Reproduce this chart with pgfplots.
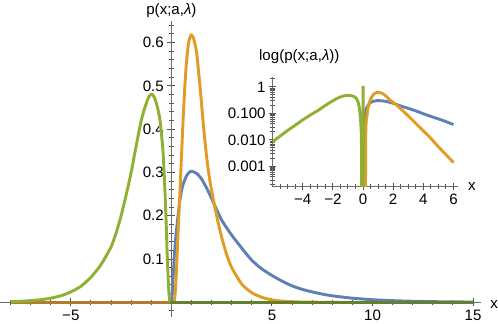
\documentclass[border=0pt]{standalone}
\usepackage{fontspec}
\setmainfont{Liberation Sans}
\usepackage{pgfplots}
\usepackage{pgfplotstable}
\pgfplotsset{compat=1.18}

\definecolor{mblue}{HTML}{5E81B5}
\definecolor{morange}{HTML}{E19C24}
\definecolor{mgreen}{HTML}{8FB032}
\definecolor{baseL}{RGB}{178,124,46}
\definecolor{baseR}{RGB}{100,128,44}
\definecolor{axgray}{gray}{0.42}
\definecolor{tickgray}{gray}{0.32}

% main panel curves
\pgfplotstableread{
x y
0 0
0.03 0.015
0.06 0.035
0.1 0.07
0.15 0.11
0.2 0.14
0.25 0.165
0.33 0.2
0.42 0.235
0.5 0.257
0.6 0.275
0.75 0.292
0.9 0.301
1.0 0.303
1.25 0.298
1.5 0.285
1.75 0.264
2.0 0.24
2.25 0.214
2.5 0.19
2.75 0.172
3.0 0.155
3.5 0.125
4.0 0.097
4.5 0.077
5.0 0.062
5.5 0.049
6.0 0.038
6.5 0.030
7.0 0.024
7.5 0.019
8 0.015
9 0.0095
10 0.006
11 0.0038
12 0.0024
13 0.0015
14 0.001
15 0.0006
}\blueA

\pgfplotstableread{
x y
0.13 0
0.18 0.015
0.25 0.071
0.33 0.16
0.42 0.25
0.5 0.335
0.58 0.42
0.67 0.5
0.75 0.555
0.85 0.598
0.95 0.616
1.0 0.618
1.1 0.61
1.25 0.578
1.4 0.51
1.5 0.458
1.6 0.405
1.7 0.358
1.8 0.318
1.9 0.285
2.0 0.258
2.25 0.2
2.5 0.15
2.75 0.11
3.0 0.08
3.5 0.042
4.0 0.022
4.5 0.0115
5.0 0.0055
5.5 0.0028
6.0 0.0014
6.5 0.0006
7.0 0.0003
8.0 0.00006
9.0 0
}\orangeA

\pgfplotstableread{
x y
-8 0.0016
-7.5 0.0025
-7 0.0039
-6.5 0.006
-6 0.0095
-5.5 0.015
-5 0.024
-4.5 0.037
-4 0.058
-3.5 0.087
-3 0.128
-2.75 0.16
-2.5 0.2
-2.25 0.248
-2 0.3
-1.75 0.362
-1.5 0.42
-1.33 0.448
-1.15 0.472
-1.0 0.481
-0.85 0.474
-0.7 0.452
-0.58 0.425
-0.5 0.392
-0.42 0.35
-0.36 0.298
-0.3 0.234
-0.25 0.17
-0.2 0.1
-0.15 0.045
-0.12 0.02
-0.08 0
}\greenA

% inset curves (log scale)
\pgfplotstableread{
x y
0.01 0.000001
0.03 0.015
0.06 0.035
0.1 0.07
0.15 0.11
0.2 0.14
0.25 0.165
0.33 0.2
0.42 0.235
0.5 0.257
0.6 0.275
0.75 0.292
0.9 0.301
1.0 0.303
1.25 0.298
1.5 0.285
1.75 0.264
2.0 0.24
2.25 0.214
2.5 0.19
2.75 0.172
3.0 0.155
3.5 0.125
4.0 0.097
4.5 0.077
5.0 0.062
5.5 0.049
6.0 0.038
}\blueB

\pgfplotstableread{
x y
0.14 0.0000001
0.18 0.015
0.25 0.071
0.33 0.16
0.42 0.25
0.5 0.335
0.58 0.42
0.67 0.5
0.75 0.555
0.85 0.598
0.95 0.616
1.0 0.618
1.1 0.61
1.25 0.578
1.4 0.51
1.5 0.458
1.6 0.405
1.7 0.358
1.8 0.318
1.9 0.285
2.0 0.258
2.25 0.2
2.5 0.15
2.75 0.11
3.0 0.08
3.5 0.042
4.0 0.022
4.5 0.0115
5.0 0.0055
5.5 0.0028
6.0 0.0014
}\orangeB

\pgfplotstableread{
x y
-6 0.0085
-5.5 0.014
-5 0.023
-4.5 0.036
-4 0.057
-3.5 0.087
-3 0.128
-2.75 0.16
-2.5 0.2
-2.25 0.248
-2 0.3
-1.75 0.362
-1.5 0.42
-1.33 0.448
-1.15 0.472
-1.0 0.481
-0.85 0.474
-0.7 0.452
-0.58 0.425
-0.5 0.392
-0.42 0.35
-0.36 0.298
-0.3 0.234
-0.25 0.17
-0.2 0.1
-0.15 0.045
-0.12 0.02
-0.1 0.004
-0.08 0.0000001
0 0.0000001
0 1.1
}\greenB

\pgfplotsset{
    mathaxis/.style={
        scale only axis,
        axis line style={axgray, line width=0.9pt},
        tick align=center,
        tick style={tickgray, line width=1pt},
        major tick length=8pt,
        minor tick length=5.5pt,
        tick label style={font=\fontsize{15}{18}\selectfont},
        every axis plot/.append style={line width=2.9pt, line join=round, smooth, tension=0.4},
    },
}

\begin{document}
\begin{tikzpicture}
\begin{axis}[
    mathaxis,
    width=478pt, height=294pt,
    axis lines=middle,
    axis line style={-},
    xmin=-8.5, xmax=15.4,
    ymin=-0.033, ymax=0.65,
    xtick={-5,5,10,15},
    xticklabels={−5,5,10,15},
    minor xtick={-8,-7,...,15},
    ytick={0.1,0.2,0.3,0.4,0.5,0.6},
    yticklabels={0.1,0.2,0.3,0.4,0.5,0.6},
    minor ytick={-0.02,0,...,0.64},
    xlabel={x},
    ylabel={p(x;a,\textit{λ})},
    xlabel style={at={(current axis.right of origin)}, anchor=west, inner sep=0pt, xshift=9pt, yshift=-2pt, font=\fontsize{15}{18}\selectfont},
    ylabel style={at={(current axis.above origin)}, anchor=south, rotate=0, font=\fontsize{15}{18}\selectfont},
]
    \addplot[mblue] table {\blueA};
    \addplot[morange] table {\orangeA};
    \addplot[baseL] coordinates {(-8,0) (0.13,0)};
    \addplot[mgreen] table {\greenA};
    \addplot[baseR] coordinates {(-0.08,0) (15,0)};
\end{axis}

\begin{axis}[
    mathaxis,
    at={(270.7pt,129.3pt)}, anchor=south west,
    width=184.3pt, height=109.4pt,
    ymode=log,
    axis lines=left,
    axis line style={-},
    major tick length=7pt,
    minor tick length=4.5pt,
    xmin=-6, xmax=6.3,
    ymin=1.74e-4, ymax=2.45,
    xtick={-4,-2,0,2,4,6},
    xticklabels={−4,−2,0,2,4,6},
    minor xtick={-5.5,-5,...,6},
    ytick={0.001,0.01,0.1,1},
    yticklabels={0.001,0.010,0.100,1},
    minor ytick={0.0002,0.0003,0.0004,0.0005,0.0006,0.0007,0.0008,0.0009,
                 0.002,0.003,0.004,0.005,0.006,0.007,0.008,0.009,
                 0.02,0.03,0.04,0.05,0.06,0.07,0.08,0.09,
                 0.2,0.3,0.4,0.5,0.6,0.7,0.8,0.9,2},
    xlabel={x},
    xlabel style={at={(axis description cs:1,0)}, anchor=west, inner sep=0pt, xshift=10pt, font=\fontsize{15}{18}\selectfont},
    title={log(p(x;a,\textit{λ}))},
    title style={at={(axis description cs:-0.074,1.065)}, anchor=south west, inner sep=0pt, font=\fontsize{15}{18}\selectfont},
]
    \addplot[mblue] table {\blueB};
    \addplot[morange] table {\orangeB};
    \addplot[mgreen, sharp plot] table {\greenB};
\end{axis}
\end{tikzpicture}
\end{document}
